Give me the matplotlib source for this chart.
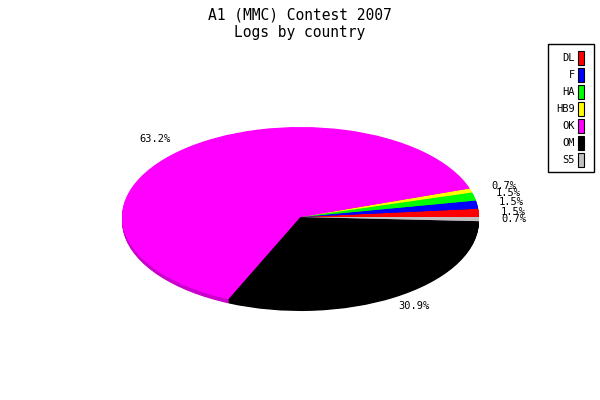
import numpy as np
import matplotlib
matplotlib.use("Agg")
import matplotlib.pyplot as plt
from matplotlib.patches import Rectangle
from matplotlib.transforms import offset_copy

# ---- data ----
countries = ["DL", "F", "HA", "HB9", "OK", "OM", "S5"]
logs = [2, 2, 2, 1, 86, 42, 1]
colors = ["#ff0000", "#0000ff", "#00ff00", "#ffff00", "#ff00ff", "#000000", "#c0c0c0"]
side_colors = ["#cc0000", "#0000cc", "#00cc00", "#cccc00", "#cc00cc", "#000000", "#9a9a9a"]
title_lines = ["A1 (MMC) Contest 2007", "Logs by country"]

W, H = 600, 400
fig = plt.figure(figsize=(6, 4), dpi=100)
fig.patch.set_facecolor("white")

mono = "DejaVu Sans Mono"

# title
fig.text(300 / W, 1 - 15 / H, title_lines[0], ha="center", va="center",
         fontsize=10.5, family=mono)
fig.text(300 / W, 1 - 33 / H, title_lines[1], ha="center", va="center",
         fontsize=10.5, family=mono)

# pie axes: ellipse box in pixels
left, right = 122, 479
top, ry_px = 127, 90
depth_px = 4
d = depth_px / ry_px
bottom = top + 2 * ry_px + depth_px
ax = fig.add_axes([left / W, 1 - bottom / H, (right - left) / W, (bottom - top) / H])
ax.set_xlim(-1, 1)
ax.set_ylim(-1 - d, 1)
ax.set_aspect("auto")
ax.axis("off")

# side (depth)
nlayers = 6
for k in range(nlayers, 0, -1):
    off = d * k / nlayers
    ax.pie(logs, colors=side_colors, startangle=0, counterclock=True,
           center=(0, -off), radius=1, wedgeprops=dict(linewidth=0))
# top
ax.pie(logs, colors=colors, startangle=0, counterclock=True,
       center=(0, 0), radius=1, wedgeprops=dict(linewidth=0))
ax.set_xlim(-1, 1)
ax.set_ylim(-1 - d, 1)
ax.set_aspect("auto")

# labels
total = float(sum(logs))
cum = 0.0
fs_lab = 7.5
charw = 0.602 * fs_lab
for v in logs:
    mid = (cum + v / 2) / total * 2 * np.pi
    cum += v
    c, s = np.cos(mid), np.sin(mid)
    txt = f"{100 * v / total:.1f}%"
    wpt = len(txt) * charw
    tr = offset_copy(ax.transData, fig=fig, x=-wpt * (1 - c) / 2, y=0, units="points")
    ax.text(1.124 * c, 1.167 * s, txt, transform=tr, ha="left", va="center",
            fontsize=fs_lab, family=mono, clip_on=False)

# legend (manual)
lx0, ly0, lx1, ly1 = 548, 44, 594, 172
fig.patches.append(Rectangle((lx0 / W, 1 - ly1 / H), (lx1 - lx0) / W, (ly1 - ly0) / H,
                             transform=fig.transFigure, facecolor="white",
                             edgecolor="black", linewidth=1))
for i, (name, col) in enumerate(zip(countries, colors)):
    yc = 58 + 17 * i
    fig.text(575 / W, 1 - yc / H, name, ha="right", va="center",
             fontsize=7.5, family=mono)
    fig.patches.append(Rectangle((578 / W, 1 - (yc + 7) / H), 6 / W, 14 / H,
                                 transform=fig.transFigure, facecolor=col,
                                 edgecolor="black", linewidth=0.8))

fig.savefig("out.png", dpi=100, facecolor="white")
